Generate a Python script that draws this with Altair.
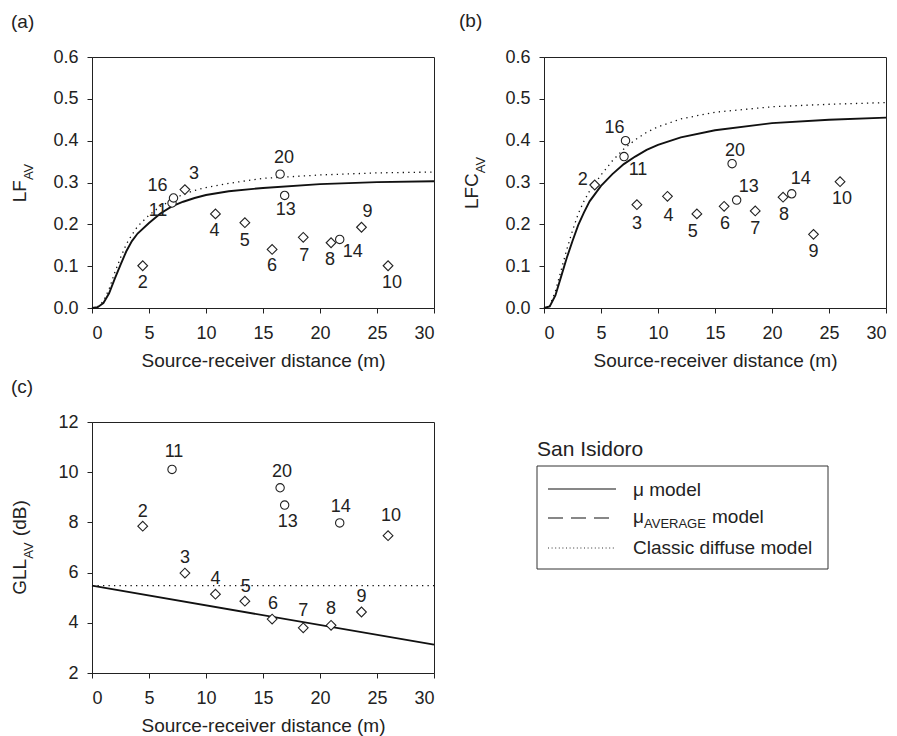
import altair as alt
import pandas as pd

FONT = "Liberation Sans"
INK = "#222222"

# ---------------- data ----------------
receivers = ["2", "3", "4", "5", "6", "7", "8", "9", "10", "11", "13", "14", "16", "20"]
distance = [4.45, 8.15, 10.83, 13.41, 15.80, 18.53, 20.97, 23.64, 25.97, 7.02, 16.90, 21.73, 7.15, 16.50]
marker = ["diamond"] * 9 + ["circle"] * 5
lf_av = [0.101, 0.283, 0.225, 0.204, 0.140, 0.169, 0.156, 0.193, 0.101, 0.251, 0.269, 0.164, 0.263, 0.320]
lfc_av = [0.294, 0.247, 0.267, 0.225, 0.243, 0.232, 0.265, 0.176, 0.302, 0.362, 0.258, 0.273, 0.400, 0.345]
gll_av = [7.85, 5.98, 5.14, 4.86, 4.15, 3.80, 3.90, 4.43, 7.47, 10.11, 8.69, 7.98, None, 9.38]

curve_x = [0, 0.5, 1, 1.5, 2, 2.5, 3, 3.5, 4, 5, 6, 7, 8, 9, 10, 12, 15, 20, 25, 30]
lf_mu = [0, 0.002, 0.012, 0.035, 0.070, 0.103, 0.135, 0.160, 0.178, 0.203, 0.226, 0.243, 0.254,
         0.263, 0.270, 0.279, 0.287, 0.296, 0.301, 0.303]
lf_diffuse = [0, 0.003, 0.016, 0.045, 0.085, 0.120, 0.152, 0.175, 0.195, 0.222, 0.243, 0.258, 0.272,
              0.281, 0.288, 0.298, 0.310, 0.318, 0.323, 0.325]
lfc_mu = [0, 0.004, 0.030, 0.075, 0.120, 0.160, 0.198, 0.228, 0.255, 0.292, 0.320, 0.344, 0.362,
          0.378, 0.390, 0.408, 0.425, 0.442, 0.450, 0.455]
lfc_diffuse = [0, 0.005, 0.040, 0.090, 0.140, 0.185, 0.225, 0.255, 0.280, 0.318, 0.352, 0.380, 0.402,
               0.420, 0.433, 0.452, 0.468, 0.481, 0.487, 0.491]
gll_x = [0, 30]
gll_mu = [5.48, 3.13]
gll_diffuse = [5.48, 5.48]

x_ticks = [0, 5, 10, 15, 20, 25, 30]
lf_ticks = [0.0, 0.1, 0.2, 0.3, 0.4, 0.5, 0.6]
gll_ticks = [2, 4, 6, 8, 10, 12]

# label offsets (pixels) for each receiver number, per panel
offsets_a = {"2": (0, 17), "3": (9, -16), "4": (-1, 17), "5": (0, 18), "6": (0, 17), "7": (1, 19),
             "8": (-1, 17), "9": (6, -15), "10": (4, 17), "11": (-14, 8), "13": (1, 15),
             "14": (13, 13), "16": (-16, -12), "20": (4, -16)}
offsets_b = {"2": (-12, -5), "3": (0, 19), "4": (1, 20), "5": (-4, 18), "6": (1, 18), "7": (0, 18),
             "8": (1, 18), "9": (0, 18), "10": (2, 17), "11": (14, 13), "13": (12, -13),
             "14": (9, -15), "16": (-11, -13), "20": (3, -13)}
offsets_c = {"2": (0, -14), "3": (0, -15), "4": (0, -15), "5": (1, -14), "6": (1, -15), "7": (0, -17),
             "8": (0, -16), "9": (0, -15), "10": (3, -20), "11": (2, -17), "13": (3, 17),
             "14": (1, -16), "20": (2, -16)}

ARIAL = {"L": .556, "F": .611, "C": .722, "G": .778, "A": .667, "V": .667, " ": .278,
         "(": .333, ")": .333, "d": .556, "B": .667}


def text_width(s, size):
    return sum(ARIAL.get(c, .556) for c in s) * size


one = alt.Data(values=[{"k": 0}])
W, H = 342, 251


def vtext(txt, px, py, size=19, angle=0, align="left", baseline="alphabetic"):
    return alt.Chart(one).mark_text(text=txt, font=FONT, fontSize=size, color=INK, angle=angle,
                                    align=align, baseline=baseline).encode(
        x=alt.value(px), y=alt.value(py))


def ytitle(parts):
    # parts: list of (text, is_sub, gap_before)
    total = sum(text_width(t, 13 if s else 19) + g for t, s, g in parts)
    ypos = H / 2 + total / 2
    layers = []
    for t, s, g in parts:
        size = 13 if s else 19
        ypos -= g
        xb = -59 if s else -66
        layers.append(vtext(t, xb, ypos, size=size, angle=270))
        ypos -= text_width(t, size)
    return layers


def panel(values, cx, mu, dif, ydom, yticks, yfmt, offsets, tparts, tag, tag_dx, tag_dy):
    xenc = alt.X("d:Q", scale=alt.Scale(domain=[0, 30], nice=False, zero=False),
                 axis=alt.Axis(values=x_ticks, format="d", title="Source-receiver distance (m)",
                               labelPadding=11, titlePadding=9))
    yenc = alt.Y("v:Q", scale=alt.Scale(domain=ydom, nice=False, zero=False),
                 axis=alt.Axis(values=yticks, format=yfmt, title=None, labelPadding=9))
    mu_df = pd.DataFrame({"d": cx, "v": mu})
    dif_df = pd.DataFrame({"d": cx, "v": dif})
    pts = pd.DataFrame({"rec": receivers, "d": distance, "marker": marker, "v": values}).dropna()

    layers = [
        alt.Chart(dif_df).mark_line(color="#111111", strokeWidth=1.3, strokeDash=[1.3, 4.2]).encode(
            x=xenc, y=yenc),
        alt.Chart(mu_df).mark_line(color="#111111", strokeWidth=1.9).encode(x=xenc, y=yenc),
        alt.Chart(pts).mark_point(filled=True, fill="white", stroke=INK, strokeWidth=1.1, opacity=1).encode(
            x=xenc, y=yenc,
            shape=alt.Shape("marker:N", scale=None),
            size=alt.condition("datum.marker == 'circle'", alt.value(70), alt.value(95))),
    ]
    for rec, (dx, dy) in offsets.items():
        layers.append(
            alt.Chart(pts).transform_filter(alt.datum.rec == rec).mark_text(
                font=FONT, fontSize=18, color=INK, dx=dx, dy=dy, align="center", baseline="middle"
            ).encode(x=xenc, y=yenc, text="rec:N"))
    layers += ytitle(tparts)
    layers.append(vtext(tag, tag_dx, tag_dy, size=19, baseline="middle"))
    return layers


# invisible anchor fixing the top-left corner of the figure relative to panel (a)
anchor = alt.Chart(one).mark_rect(opacity=0).encode(
    x=alt.value(-91), x2=alt.value(-90), y=alt.value(-56), y2=alt.value(-55))

pa = alt.layer(*(panel(lf_av, curve_x, lf_mu, lf_diffuse, [0, 0.6], lf_ticks, ".1f", offsets_a,
                       [("LF", False, 0), ("AV", True, 0)], "(a)", -81, -35) + [anchor])
               ).properties(width=W, height=H)
pb = alt.layer(*panel(lfc_av, curve_x, lfc_mu, lfc_diffuse, [0, 0.6], lf_ticks, ".1f", offsets_b,
                      [("LFC", False, 0), ("AV", True, 0)], "(b)", -85, -36)).properties(width=W, height=H)

# legend (drawn beside panel c)
leg = []
leg.append(vtext("San Isidoro", 445, 34, size=21))
leg.append(alt.Chart(one).mark_rect(fill="white", fillOpacity=0, stroke="#333333", strokeWidth=1).encode(
    x=alt.value(445), x2=alt.value(736), y=alt.value(44), y2=alt.value(147)))
leg.append(alt.Chart(one).mark_rule(color="#111111", strokeWidth=1.2).encode(
    x=alt.value(456), x2=alt.value(524), y=alt.value(67)))
leg.append(alt.Chart(one).mark_rule(color="#111111", strokeWidth=1.2, strokeDash=[15, 8]).encode(
    x=alt.value(456), x2=alt.value(524), y=alt.value(96)))
leg.append(alt.Chart(one).mark_rule(color="#333333", strokeWidth=1, strokeDash=[1, 2.6]).encode(
    x=alt.value(456), x2=alt.value(524), y=alt.value(126)))
leg.append(vtext("μ model", 541, 74))
leg.append(vtext("μ", 541, 101))
leg.append(vtext("AVERAGE", 552, 106, size=13))
leg.append(vtext("model", 620, 101))
leg.append(vtext("Classic diffuse model", 541, 132))

pc_layers = panel(gll_av, gll_x, gll_mu, gll_diffuse, [2, 12], gll_ticks, "d", offsets_c,
                  [("GLL", False, 0), ("AV", True, 0), ("(dB)", False, 5.3)], "(c)", -81, -35)
pc = alt.layer(*(pc_layers + leg)).properties(width=W, height=H)

chart = alt.ConcatChart(
    concat=[pa, pb, pc], columns=2, spacing={"row": 114, "column": 110}, bounds="flush"
).resolve_scale(x="independent", y="independent").properties(
    padding=0, background="white"
).configure_view(stroke="#222222", strokeWidth=1).configure_axis(
    domainColor=INK, tickColor=INK, labelColor=INK, titleColor=INK, labelFont=FONT, titleFont=FONT,
    labelFontSize=18, titleFontSize=19, titleFontWeight="normal", grid=False, tickSize=5,
    domainWidth=1, tickWidth=1)

chart.save("out.html", embed_options={"renderer": "svg", "actions": False})
